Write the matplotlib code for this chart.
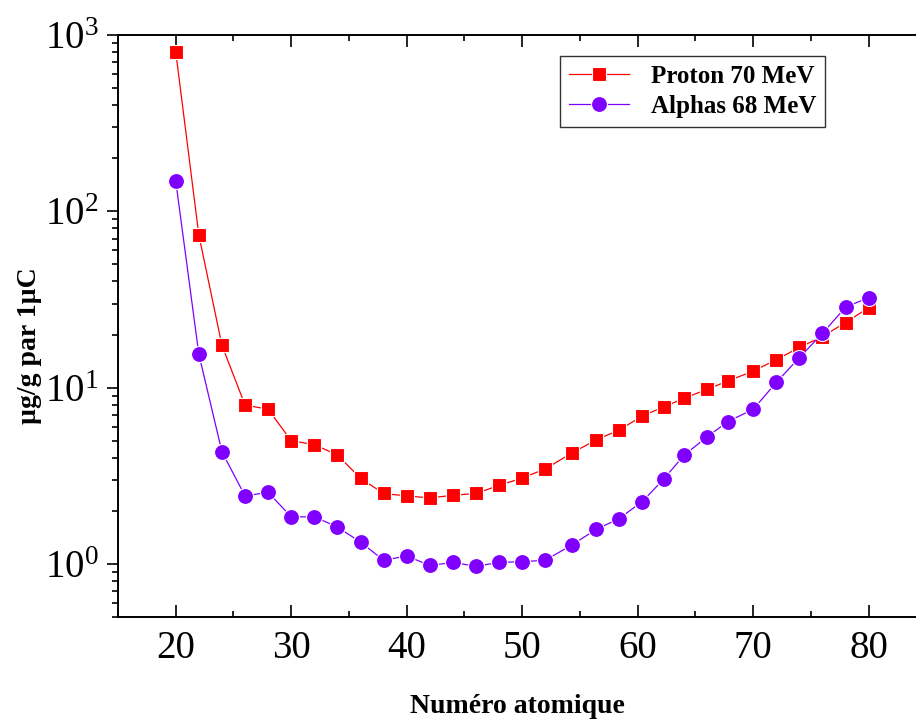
import numpy as np
import matplotlib
matplotlib.use("Agg")
import matplotlib.pyplot as plt
from matplotlib.ticker import LogLocator, MultipleLocator

plt.rcParams["font.family"] = ["Liberation Serif", "DejaVu Serif"]
plt.rcParams["mathtext.fontset"] = "custom"
plt.rcParams["mathtext.rm"] = "Liberation Serif"

# Atomic number
z = [20, 22, 24, 26, 28, 30, 32, 34, 36, 38, 40, 42, 44, 46, 48, 50, 52,
     54.3, 56.4, 58.4, 60.4, 62.3, 64, 66, 67.8, 70, 72, 74, 76, 78, 80]

# ug/g per 1 uC
proton_70 = [805, 73.5, 17.4, 7.97, 7.54, 5.0, 4.75, 4.15, 3.06, 2.51, 2.43, 2.37,
             2.45, 2.51, 2.79, 3.07, 3.46,
             4.26, 5.05, 5.75, 6.9, 7.8, 8.69, 9.78, 10.9, 12.4, 14.4, 16.9, 19.5,
             23.4, 28.4]
alpha_68 = [149, 15.5, 4.33, 2.43, 2.55, 1.85, 1.85, 1.62, 1.33, 1.05, 1.11, 0.98,
            1.02, 0.97, 1.02, 1.03, 1.05,
            1.28, 1.57, 1.81, 2.26, 3.05, 4.13, 5.25, 6.42, 7.53, 10.7, 14.8, 20.3,
            28.6, 32.4]

fig = plt.figure(figsize=(9.16, 7.22), dpi=100)
ax = fig.add_axes([0.1288, 0.1454, 0.8712, 0.8061])

ax.plot(z, proton_70, "-s", color="#FF0000", lw=0.9, markersize=10,
        markeredgecolor="white", markeredgewidth=0.8, label="Proton 70 MeV")
ax.plot(z, alpha_68, "-o", color="#7F00FF", lw=0.9, markersize=11.5,
        markeredgecolor="white", markeredgewidth=0.8, label="Alphas 68 MeV")

ax.set_yscale("log")
ax.set_xlim(15, 84.1)
ax.set_ylim(0.5, 1000)

ax.xaxis.set_major_locator(MultipleLocator(10))
ax.xaxis.set_minor_locator(MultipleLocator(5))
ax.yaxis.set_major_locator(LogLocator(base=10))
ax.yaxis.set_minor_locator(LogLocator(base=10, subs=np.arange(2, 10)))

for side in ["left", "bottom", "top"]:
    ax.spines[side].set_linewidth(1.4)
ax.spines["right"].set_visible(False)

ax.tick_params(axis="y", which="major", direction="out", length=8, width=1.2,
               labelsize=28, pad=6, right=False)
ax.tick_params(axis="y", which="minor", direction="out", length=4.5, width=1.2,
               right=False)
ax.tick_params(axis="x", which="major", direction="in", length=8.5, width=1.2,
               labelsize=28, pad=9, top=True)
ax.tick_params(axis="x", which="minor", direction="in", length=4.5, width=1.2,
               top=True)

ax.set_xlabel("Numéro atomique", fontsize=20, fontweight="bold", labelpad=20)
ax.set_ylabel("µg/g par 1µC", fontsize=20, fontweight="bold")
ax.yaxis.set_label_coords(-0.095, 0.467)

leg = ax.legend(loc="upper left", bbox_to_anchor=(0.554, 0.964),
                prop={"weight": "bold", "size": 18}, frameon=True, fancybox=False,
                handlelength=2.4, handletextpad=0.9, borderpad=0.35,
                labelspacing=0.3, borderaxespad=0)
leg.get_frame().set_edgecolor("black")
leg.get_frame().set_linewidth(1.0)

fig.savefig("out.png", dpi=100)
